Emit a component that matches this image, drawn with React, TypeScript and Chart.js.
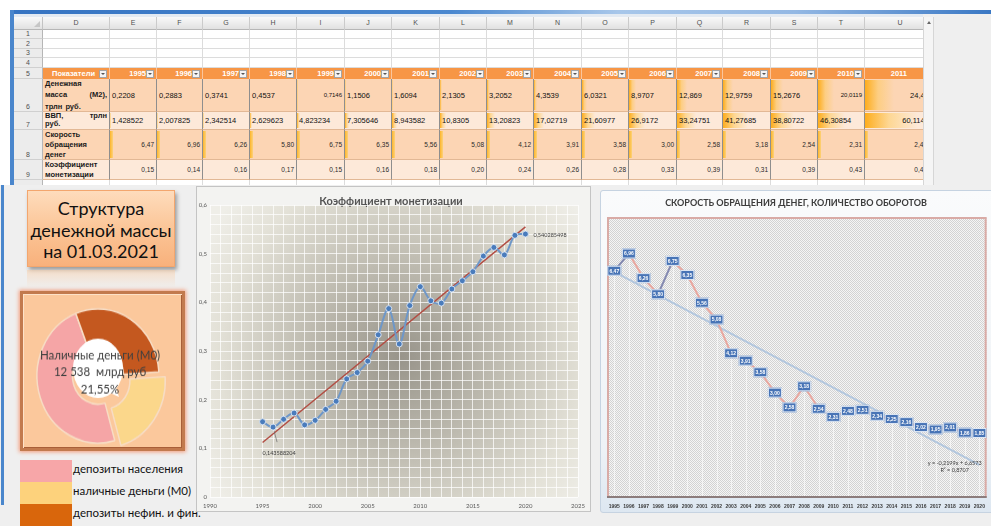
import React, { useEffect, useRef } from 'react';
import { Chart, registerables } from 'chart.js';

Chart.register(...registerables);

const SHEET_FONT = '"Liberation Sans", Arial, sans-serif';
const CAL_FONT = 'Lato, "Open Sans", sans-serif';
Chart.defaults.font.family = CAL_FONT;

// ---------- data ----------
const years = [1995, 1996, 1997, 1998, 1999, 2000, 2001, 2002, 2003, 2004, 2005, 2006, 2007, 2008, 2009, 2010, 2011, 2012, 2013, 2014, 2015, 2016, 2017, 2018, 2019, 2020];
const tableYears = [1995, 1996, 1997, 1998, 1999, 2000, 2001, 2002, 2003, 2004, 2005, 2006, 2007, 2008, 2009, 2010, 2011];

// Денежная масса М2, трлн руб.
const moneySupplyM2 = [0.2208, 0.2883, 0.3741, 0.4537, 0.7146, 1.1506, 1.6094, 2.1305, 3.2052, 4.3539, 6.0321, 8.9707, 12.869, 12.9759, 15.2676, 20.0119, 24.483];
// ВВП, трлн руб.
const gdpTrln = [1.428522, 2.007825, 2.342514, 2.629623, 4.823234, 7.305646, 8.943582, 10.8305, 13.20823, 17.02719, 21.60977, 26.9172, 33.24751, 41.27685, 38.80722, 46.30854, 60.11403];
// Скорость обращения денег, оборотов
const velocity = [6.47, 6.96, 6.26, 5.8, 6.75, 6.35, 5.56, 5.08, 4.12, 3.91, 3.58, 3.0, 2.58, 3.18, 2.54, 2.31, 2.48, 2.51, 2.34, 2.25, 2.16, 2.02, 1.95, 2.01, 1.86, 1.85];
// Коэффициент монетизации
const monetization = [0.1546, 0.143588204, 0.1597, 0.1725, 0.1482, 0.1575, 0.18, 0.1967, 0.2427, 0.2557, 0.2791, 0.3333, 0.3871, 0.3144, 0.3934, 0.4321, 0.4032, 0.3984, 0.4274, 0.4444, 0.463, 0.495, 0.5128, 0.4975, 0.5376, 0.540285498];
const monetizationTrendYears = [1995, 2020];
const monetizationTrendValues = [0.112, 0.555];

const velocityTrendSlope = -0.2199;
const velocityTrendIntercept = 6.6573;
const velocityTrendR2 = 0.8707;

// Структура денежной массы на 01.03.2021, млрд руб.
const structureLabels = ['депозиты населения', 'наличные деньги (М0)', 'депозиты нефин. и фин.'];
const structureValues = [28218, 12538, 17425];

const rowLabels = [
  [['Денежная'], ['масса', '(М2),'], ['трлн', 'руб.']],
  [['ВВП,', 'трлн'], ['руб.']],
  [['Скорость'], ['обращения'], ['денег']],
  [['Коэффициент'], ['монетизации']],
];

// ---------- layout ----------
const COL_NAMES = ['D', 'E', 'F', 'G', 'H', 'I', 'J', 'K', 'L', 'M', 'N', 'O', 'P', 'Q', 'R', 'S', 'T', 'U'];
const COL_X = [43, 110, 157, 203, 250, 297, 345, 392, 440, 487, 534, 582, 629, 677, 723, 771, 818, 865, 936];
const ROW_Y = [29.5, 39, 48.5, 58, 68, 79, 112, 130, 160, 180, 200];

const ru = (v: number, digits?: number) =>
  (digits === undefined ? String(v) : v.toFixed(digits)).replace('.', ',');

const BODY = [
  { bg: '#fcd5b4', justify: 'space-between', align: 'left', size: 7.5, small: [4, 15], right: [4, 15, 16], uPad: 2, barScale: 60, barFixed: 0 },
  { bg: '#fde9d9', justify: 'flex-start', align: 'left', size: 7.5, small: [], right: [16], uPad: 2, barScale: 80, barFixed: 0 },
  { bg: '#fcd5b4', justify: 'space-between', align: 'right', size: 6.5, small: [], right: [], uPad: 8, barScale: 0, barFixed: 3 },
  { bg: '#fde9d9', justify: 'space-between', align: 'right', size: 6.5, small: [], right: [], uPad: 8, barScale: 0, barFixed: 0 },
];

function Spreadsheet() {
  const cells: any[] = [];
  const add = (key: string, style: any, content?: any) =>
    cells.push(
      <div key={key} style={{ position: 'absolute', boxSizing: 'border-box', ...style }}>
        {content}
      </div>
    );

  // column letters
  add('colband', { left: 14, top: 17, width: 909, height: 12.5, background: 'linear-gradient(#f9f9f9,#e1e1e1)', borderBottom: '1px solid #b6b6b6' });
  add('corner', { left: 14, top: 17, width: 29, height: 12.5, borderRight: '1px solid #c3c3c3', borderBottom: '1px solid #b6b6b6' },
    <div style={{ position: 'absolute', right: 2, bottom: 2, width: 0, height: 0, borderLeft: '6px solid transparent', borderBottom: '6px solid #c6c6c6' }} />);
  COL_NAMES.forEach((name, i) =>
    add('col' + name, { left: COL_X[i], top: 17, width: COL_X[i + 1] - COL_X[i], height: 12.5, borderRight: '1px solid #cbcbcb', font: `7px ${SHEET_FONT}`, color: '#505050', textAlign: 'center', lineHeight: '12px' }, name));

  // row numbers
  for (let r = 0; r < 10; r++) {
    const top = ROW_Y[r];
    const h = ROW_Y[r + 1] - top;
    add('rh' + r, { left: 14, top, width: 29, height: h, background: '#ececec', borderRight: '1px solid #b6b6b6', borderBottom: '1px solid #d0d0d0', font: `7px ${SHEET_FONT}`, color: '#505050', display: 'flex', alignItems: r < 5 ? 'center' : 'flex-end', justifyContent: 'center', paddingBottom: r < 5 ? 0 : 1 }, String(r + 1));
  }

  // empty rows
  [0, 1, 2, 3, 9].forEach((r) =>
    COL_NAMES.forEach((n, i) =>
      add(`e${r}${n}`, { left: COL_X[i], top: ROW_Y[r], width: COL_X[i + 1] - COL_X[i], height: ROW_Y[r + 1] - ROW_Y[r], background: '#fff', borderRight: '1px solid #dcdcdc', borderBottom: '1px solid #dcdcdc' })));

  // table header
  const headerTexts = ['Показатели', ...tableYears.map(String)];
  headerTexts.forEach((t, i) => {
    const w = COL_X[i + 1] - COL_X[i];
    const hasBtn = i < headerTexts.length - 1;
    add('h' + i, {
      left: COL_X[i], top: ROW_Y[4], width: w, height: ROW_Y[5] - ROW_Y[4], background: '#f79646', borderRight: '1px solid #fbc59c', overflow: 'hidden',
      font: `bold 7.5px ${SHEET_FONT}`, color: '#fff', lineHeight: '11px', whiteSpace: 'nowrap',
      paddingLeft: i === 0 ? 9 : 0, paddingRight: i === 0 ? 0 : hasBtn ? 10 : 28, textAlign: i === 0 ? 'left' : 'right',
    }, (
      <>
        {t}
        {hasBtn && (
          <div style={{ position: 'absolute', right: 2, top: 1.5, width: 8, height: 8, boxSizing: 'border-box', background: '#f4f4f4', border: '1px solid #a4a4a4' }}>
            <div style={{ position: 'absolute', left: 1, top: 2, width: 0, height: 0, borderLeft: '2px solid transparent', borderRight: '2px solid transparent', borderTop: '2.5px solid #555' }} />
          </div>
        )}
      </>
    ));
  });

  // table body
  const bodyValues = [
    moneySupplyM2.map((v) => ru(v)),
    gdpTrln.map((v) => ru(v)),
    velocity.slice(0, tableYears.length).map((v) => ru(v, 2)),
    monetization.slice(0, tableYears.length).map((v) => ru(v, 2)),
  ];
  const bodyRaw = [moneySupplyM2, gdpTrln, velocity, monetization];

  BODY.forEach((st, r) => {
    const top = ROW_Y[5 + r];
    const h = ROW_Y[6 + r] - top;
    const lines = rowLabels[r];
    add('lab' + r, {
      left: COL_X[0], top, width: COL_X[1] - COL_X[0], height: h, background: st.bg,
      borderRight: '1px solid #8e8e8e', borderBottom: '1px solid #e2b895',
      font: `bold 7.5px ${SHEET_FONT}`, color: '#1a1a1a', padding: r === 1 ? '0 2px' : '1px 2px',
      display: 'flex', flexDirection: 'column', justifyContent: st.justify, lineHeight: '7.5px', overflow: 'hidden',
    }, lines.map((words, li) => (
      <div key={li} style={{ display: 'flex', justifyContent: words.length > 1 && li < lines.length - 1 ? 'space-between' : 'flex-start', gap: 3, whiteSpace: 'nowrap' }}>
        {words.map((wd, wi) => <span key={wi}>{wd}</span>)}
      </div>
    )));

    bodyValues[r].forEach((txt, i) => {
      const x0 = COL_X[i + 1];
      const w = COL_X[i + 2] - x0;
      const small = st.small.includes(i);
      const right = st.align === 'right' || st.right.includes(i);
      const isU = i === tableYears.length - 1;
      const v = bodyRaw[r][i];
      let barW = 0;
      if (st.barScale) barW = (w * v) / st.barScale;
      if (st.barFixed) barW = st.barFixed;
      add(`v${r}_${i}`, {
        left: x0, top, width: w, height: h, background: st.bg,
        borderRight: '1px solid #8e8e8e', borderBottom: '1px solid #e2b895', overflow: 'hidden',
        font: `${small ? 6 : st.size}px ${SHEET_FONT}`, color: st.align === 'right' ? '#2a2a2a' : '#111',
        display: 'flex', alignItems: 'center', justifyContent: right ? 'flex-end' : 'flex-start',
        paddingLeft: 2, paddingRight: isU ? st.uPad : 2, whiteSpace: 'nowrap',
      }, (
        <>
          {barW > 0 && (
            <div style={{ position: 'absolute', left: 0, top: 1, bottom: 1, width: barW, background: st.barFixed ? 'linear-gradient(to right,#fdb52c,#fdd27a)' : 'linear-gradient(to right, rgba(253,170,20,0.95), rgba(254,200,90,0.55) 45%, rgba(254,220,160,0) 100%)' }} />
          )}
          <span style={{ position: 'relative' }}>{txt}</span>
        </>
      ));
    });
  });

  return (
    <div style={{ position: 'absolute', left: 0, top: 0, width: 923, height: 185, overflow: 'hidden' }}>
      {cells}
    </div>
  );
}

function WindowFrame() {
  return (
    <>
      <div style={{ position: 'absolute', left: 0, top: 0, width: 991, height: 185, background: '#fff' }} />
      <div style={{ position: 'absolute', left: 10, top: 10, width: 981, height: 3.5, background: 'linear-gradient(to right,#3674c2 0%,#4a88d0 45%,#a8c7ea 62%,#93b8e4 80%,#3a78c4 100%)' }} />
      <div style={{ position: 'absolute', left: 14, top: 13.5, width: 977, height: 3.5, background: '#e3eaf2' }} />
      <div style={{ position: 'absolute', left: 10, top: 10, width: 4, height: 175, background: '#4a86cc' }} />
      <div style={{ position: 'absolute', left: 923, top: 13.5, width: 68, height: 172, background: '#efefef' }} />
      <div style={{ position: 'absolute', left: 923, top: 17, width: 11, height: 168, boxSizing: 'border-box', background: '#f5f5f5', borderLeft: '1px solid #d6d6d6', borderRight: '1px solid #d6d6d6' }}>
        <div style={{ position: 'absolute', left: 2.5, top: 3.5, width: 0, height: 0, borderLeft: '2.5px solid transparent', borderRight: '2.5px solid transparent', borderBottom: '3px solid #666' }} />
      </div>
      <div style={{ position: 'absolute', left: 1, top: 185, width: 3, height: 320, background: '#4a86cc' }} />
    </>
  );
}

function TitleBox() {
  return (
    <>
      <div style={{
        position: 'absolute', left: 27, top: 190, width: 148, height: 77, boxSizing: 'border-box',
        background: 'linear-gradient(#fedcbc, #fbc394 55%, #f8b17c)', border: '1px solid #f3a66e',
        boxShadow: '2px 3px 4px rgba(0,0,0,0.35)', display: 'flex', alignItems: 'center', justifyContent: 'center',
        font: `18px ${CAL_FONT}`, lineHeight: '21.5px', textAlign: 'center', color: '#111', paddingTop: 4,
      }}>
        <div>Структура<br />денежной массы<br />на 01.03.2021</div>
      </div>
      <div style={{ position: 'absolute', left: 27, top: 270, width: 148, height: 18, background: 'linear-gradient(rgba(250,205,165,0.5), rgba(250,205,165,0))' }} />
    </>
  );
}

const sliceColors = ['#f5a5a6', '#fbd78b', '#c4581f'];
const legendColors = ['#f7a6a8', '#fdd27c', '#d9660c'];

function StructureChart() {
  const ref = useRef<HTMLCanvasElement>(null);
  useEffect(() => {
    const canvas = ref.current!;
    const drawOrder = [1, 0, 2]; // М0 начинается с отметки «3 часа», далее по часовой
    const total = structureValues.reduce((a, b) => a + b, 0);
    const m0Index = 1;
    const callout = {
      id: 'm0Callout',
      afterDatasetsDraw(chart: any) {
        const arc = chart.getDatasetMeta(0).data[1];
        const cx = arc.x;
        const cy = arc.y;
        const ctx = chart.ctx;
        ctx.save();
        ctx.fillStyle = '#ffffff';
        ctx.beginPath();
        ctx.ellipse(cx, cy - 7, 25, 27, 0, 0, Math.PI * 2);
        ctx.fill();
        ctx.beginPath();
        ctx.moveTo(cx + 9, cy + 14);
        ctx.lineTo(cx + 21, cy + 19);
        ctx.lineTo(cx + 17, cy + 8);
        ctx.closePath();
        ctx.fill();
        const name = structureLabels[m0Index];
        const v = structureValues[m0Index];
        ctx.fillStyle = '#404040';
        ctx.font = `11.5px ${CAL_FONT}`;
        ctx.textAlign = 'center';
        ctx.textBaseline = 'middle';
        ctx.fillText(name.charAt(0).toUpperCase() + name.slice(1), cx + 2, cy - 19);
        ctx.fillText(`${String(v).replace(/\B(?=(\d{3})+(?!\d))/g, ' ')}  млрд руб`, cx + 2, cy - 3.5);
        ctx.fillText(`${ru((v / total) * 100, 2)}%`, cx + 2, cy + 12.5);
        ctx.restore();
      },
    };
    const chart = new Chart(canvas, {
      type: 'doughnut',
      data: {
        labels: drawOrder.map((i) => structureLabels[i]),
        datasets: [{
          data: drawOrder.map((i) => structureValues[i]),
          backgroundColor: drawOrder.map((i) => sliceColors[i]),
          borderColor: '#f7dcc4',
          borderWidth: 1.5,
          offset: drawOrder.map((i) => (i === m0Index ? 30 : 0)),
          hoverOffset: 0,
        }],
      },
      options: {
        animation: false,
        responsive: false,
        rotation: 86.5,
        radius: 61,
        cutout: '42%',
        layout: { padding: { left: 7, right: 16, top: 14, bottom: 4 } },
        plugins: { legend: { display: false }, tooltip: { enabled: false } },
      },
      plugins: [callout],
    } as any);
    return () => chart.destroy();
  }, []);
  return (
    <div style={{
      position: 'absolute', left: 20, top: 291, width: 165, height: 160, boxSizing: 'border-box',
      background: '#fbc89c', border: '3px solid #c27a4e',
      boxShadow: '0 0 4px 1px #f39a78, inset 1px 1px 0 #fde2c8, inset -1px -1px 0 #a85f38',
    }}>
      <canvas ref={ref} width={159} height={154} style={{ position: 'absolute', left: 0, top: 0, width: 159, height: 154, transform: 'scaleY(1.1)', transformOrigin: '75px 82px' }} />
    </div>
  );
}

function StructureLegend() {
  return (
    <>
      {structureLabels.map((label, i) => (
        <React.Fragment key={label}>
          <div style={{ position: 'absolute', left: 20, top: 460 + i * 22, width: 52, height: 22, background: legendColors[i] }} />
          <div style={{ position: 'absolute', left: 73, top: 462 + i * 22, height: 22, lineHeight: '22px', font: `11.5px ${CAL_FONT}`, color: '#111', whiteSpace: 'nowrap' }}>{label}</div>
        </React.Fragment>
      ))}
    </>
  );
}

function MonetizationChart() {
  const ref = useRef<HTMLCanvasElement>(null);
  useEffect(() => {
    const canvas = ref.current!;
    const plotBg = {
      id: 'plotBg',
      beforeDraw(chart: any) {
        const { ctx, chartArea: a } = chart;
        ctx.save();
        const cx = a.left + a.width * 0.52;
        const cy = a.top + a.height * 0.52;
        const g = ctx.createRadialGradient(cx, cy, 0, cx, cy, 230);
        g.addColorStop(0, '#98948a');
        g.addColorStop(0.45, '#c2bfb4');
        g.addColorStop(0.8, '#e3e1d7');
        g.addColorStop(1, '#efeee8');
        ctx.fillStyle = g;
        ctx.fillRect(a.left, a.top, a.width, a.height);
        ctx.fillStyle = '#555555';
        ctx.font = `bold 11px ${CAL_FONT}`;
        ctx.textAlign = 'center';
        ctx.textBaseline = 'middle';
        ctx.fillText('Коэффициент монетизации', (a.left + a.right) / 2 - 3, 14);
        ctx.restore();
      },
      afterDatasetsDraw(chart: any) {
        const ctx = chart.ctx;
        const pts = chart.getDatasetMeta(0).data;
        const minVal = Math.min(...monetization);
        const iMin = monetization.indexOf(minVal);
        const iLast = monetization.length - 1;
        ctx.save();
        ctx.font = `5.5px ${CAL_FONT}`;
        ctx.fillStyle = '#404040';
        ctx.strokeStyle = '#6a6a6a';
        ctx.lineWidth = 0.7;
        const p = pts[iMin];
        ctx.beginPath();
        ctx.moveTo(p.x + 1, p.y + 4);
        ctx.lineTo(p.x + 4, p.y + 15);
        ctx.stroke();
        ctx.textAlign = 'center';
        ctx.textBaseline = 'middle';
        ctx.fillText(ru(minVal), p.x + 6, p.y + 26);
        const q = pts[iLast];
        ctx.textAlign = 'left';
        ctx.fillText(ru(monetization[iLast]), q.x + 8, q.y + 1);
        ctx.restore();
      },
    };
    const chart = new Chart(canvas, {
      type: 'scatter',
      data: {
        datasets: [
          {
            data: years.map((y, i) => ({ x: y, y: monetization[i] })),
            showLine: true,
            borderColor: '#6e97c8',
            borderWidth: 2,
            tension: 0.35,
            pointRadius: 3,
            pointBackgroundColor: '#4a7cbc',
            pointBorderColor: '#d5e1f0',
            pointBorderWidth: 1,
          },
          {
            data: monetizationTrendYears.map((y, i) => ({ x: y, y: monetizationTrendValues[i] })),
            showLine: true,
            borderColor: '#b24e44',
            borderWidth: 1.5,
            pointRadius: 0,
          },
        ],
      },
      options: {
        animation: false,
        responsive: false,
        layout: { padding: { top: 18, right: 12, left: 0, bottom: 0 } },
        plugins: { legend: { display: false }, tooltip: { enabled: false } },
        scales: {
          x: {
            type: 'linear', min: 1990, max: 2025,
            afterFit: (s: any) => { s.height = 14; },
            border: { display: false },
            grid: { color: 'rgba(255,255,255,0.72)', lineWidth: 1, drawTicks: false },
            ticks: {
              stepSize: 1, autoSkip: false, maxRotation: 0, minRotation: 0, padding: 5,
              font: { size: 6 }, color: '#5a5a5a',
              callback: (v: any) => (Number(v) % 5 === 0 ? String(v) : ''),
            },
          },
          y: {
            min: 0, max: 0.6,
            afterFit: (s: any) => { s.width = 13; },
            border: { display: false },
            grid: { color: 'rgba(255,255,255,0.72)', lineWidth: 1, drawTicks: false },
            ticks: {
              stepSize: 0.02, autoSkip: false, padding: 3,
              font: { size: 6 }, color: '#5a5a5a',
              callback: (v: any) => {
                const n = Number(v);
                if (Math.abs(n * 10 - Math.round(n * 10)) > 1e-6) return '';
                return n === 0 ? '0' : ru(n, 1);
              },
            },
          },
        },
      },
      plugins: [plotBg],
    } as any);
    return () => chart.destroy();
  }, []);
  return (
    <div style={{ position: 'absolute', left: 196, top: 186, width: 395, height: 326, boxSizing: 'border-box', background: '#f3f3f1', border: '1px solid #c4c4c4' }}>
      <canvas ref={ref} width={393} height={324} style={{ position: 'absolute', left: 0, top: 0, width: 393, height: 324 }} />
    </div>
  );
}

function makeDotPattern(ctx: CanvasRenderingContext2D) {
  const c = document.createElement('canvas');
  c.width = 2;
  c.height = 2;
  const p = c.getContext('2d')!;
  p.fillStyle = '#f5f5f5';
  p.fillRect(0, 0, 2, 2);
  p.fillStyle = '#d3d3d3';
  p.fillRect(0, 0, 1, 1);
  p.fillRect(1, 1, 1, 1);
  return ctx.createPattern(c, 'repeat');
}

function VelocityChart() {
  const ref = useRef<HTMLCanvasElement>(null);
  useEffect(() => {
    const canvas = ref.current!;
    const last = velocity.length - 1;
    const trend = velocity.map((_, i) => (i === 0 || i === last ? velocityTrendSlope * (i + 1) + velocityTrendIntercept : null));
    const darkSegments = [0, 3];
    const plot = {
      id: 'velocityPlot',
      beforeDraw(chart: any) {
        const { ctx, chartArea: a } = chart;
        ctx.save();
        ctx.fillStyle = makeDotPattern(ctx);
        ctx.fillRect(a.left, a.top, a.width, a.height);
        ctx.fillStyle = '#3c3c3c';
        ctx.font = `bold 9px ${CAL_FONT}`;
        ctx.textAlign = 'center';
        ctx.textBaseline = 'middle';
        ctx.fillText('СКОРОСТЬ ОБРАЩЕНИЯ ДЕНЕГ, КОЛИЧЕСТВО ОБОРОТОВ', chart.width / 2, 12);
        ctx.restore();
      },
      beforeDatasetsDraw(chart: any) {
        const { ctx, chartArea: a } = chart;
        ctx.save();
        ctx.strokeStyle = 'rgba(255,255,255,0.6)';
        ctx.lineWidth = 1;
        chart.getDatasetMeta(0).data.forEach((pt: any) => {
          const x = Math.round(pt.x) + 0.5;
          ctx.beginPath();
          ctx.moveTo(x, pt.y);
          ctx.lineTo(x, a.bottom);
          ctx.stroke();
        });
        ctx.lineWidth = 2;
        ctx.strokeStyle = '#d9aba6';
        ctx.strokeRect(a.left + 1, a.top + 1, a.width - 2, a.height - 2);
        ctx.strokeStyle = '#8c7c7c';
        ctx.beginPath();
        ctx.moveTo(a.left, a.bottom - 1);
        ctx.lineTo(a.right, a.bottom - 1);
        ctx.stroke();
        ctx.restore();
      },
      afterDatasetsDraw(chart: any) {
        const { ctx, chartArea: a } = chart;
        ctx.save();
        ctx.font = `bold 5px ${SHEET_FONT}`;
        ctx.textAlign = 'center';
        ctx.textBaseline = 'middle';
        chart.getDatasetMeta(0).data.forEach((pt: any, i: number) => {
          const w = 14;
          const h = 10;
          ctx.fillStyle = '#4874b6';
          ctx.fillRect(pt.x - w / 2, pt.y - h / 2, w, h);
          ctx.strokeStyle = '#e2eaf4';
          ctx.lineWidth = 1;
          ctx.strokeRect(pt.x - w / 2 + 0.5, pt.y - h / 2 + 0.5, w - 1, h - 1);
          ctx.fillStyle = '#ffffff';
          ctx.fillText(ru(velocity[i], 2), pt.x, pt.y + 0.5);
        });
        ctx.fillStyle = '#404040';
        ctx.font = `5.5px ${CAL_FONT}`;
        const sign = velocityTrendIntercept >= 0 ? '+' : '-';
        ctx.fillText(`y = ${ru(velocityTrendSlope)}x ${sign} ${ru(Math.abs(velocityTrendIntercept))}`, a.right - 32, a.bottom - 35);
        ctx.fillText(`R² = ${ru(velocityTrendR2)}`, a.right - 32, a.bottom - 28);
        ctx.restore();
      },
    };
    const chart = new Chart(canvas, {
      type: 'line',
      data: {
        labels: years.map(String),
        datasets: [
          {
            data: velocity,
            borderColor: '#e9a79f',
            borderWidth: 2,
            pointRadius: 0,
            tension: 0,
            segment: { borderColor: (c: any) => (darkSegments.includes(c.p0DataIndex) ? '#8489b0' : '#e9a79f') },
          },
          {
            data: trend,
            spanGaps: true,
            borderColor: '#b3c7de',
            borderWidth: 2,
            pointRadius: 0,
          },
        ],
      },
      options: {
        animation: false,
        responsive: false,
        layout: { padding: { top: 26, right: 4, left: 6, bottom: 0 } },
        plugins: { legend: { display: false }, tooltip: { enabled: false } },
        scales: {
          x: {
            offset: true,
            afterFit: (s: any) => { s.height = 14; },
            border: { display: false },
            grid: { display: false, drawTicks: false },
            ticks: { autoSkip: false, maxRotation: 0, minRotation: 0, padding: 6, font: { family: SHEET_FONT, size: 5, weight: 'bold' }, color: '#3a3a3a' },
          },
          y: { display: false, min: 0, max: 8 },
        },
      },
      plugins: [plot],
    } as any);
    return () => chart.destroy();
  }, []);
  return (
    <div style={{ position: 'absolute', left: 600, top: 190, width: 400, height: 323, boxSizing: 'border-box', borderRadius: 3, background: 'linear-gradient(#fafbfc, #eef2f6 80%, #dde7f1)', border: '1px solid #c6d3e1' }}>
      <canvas ref={ref} width={390} height={321} style={{ position: 'absolute', left: 0, top: 0, width: 390, height: 321 }} />
    </div>
  );
}

export default function App() {
  return (
    <div style={{ position: 'fixed', left: 0, top: 0, width: 991, height: 526, overflow: 'hidden', background: '#efefef', fontFamily: SHEET_FONT }}>
      <WindowFrame />
      <Spreadsheet />
      <TitleBox />
      <StructureChart />
      <StructureLegend />
      <MonetizationChart />
      <VelocityChart />
    </div>
  );
}
